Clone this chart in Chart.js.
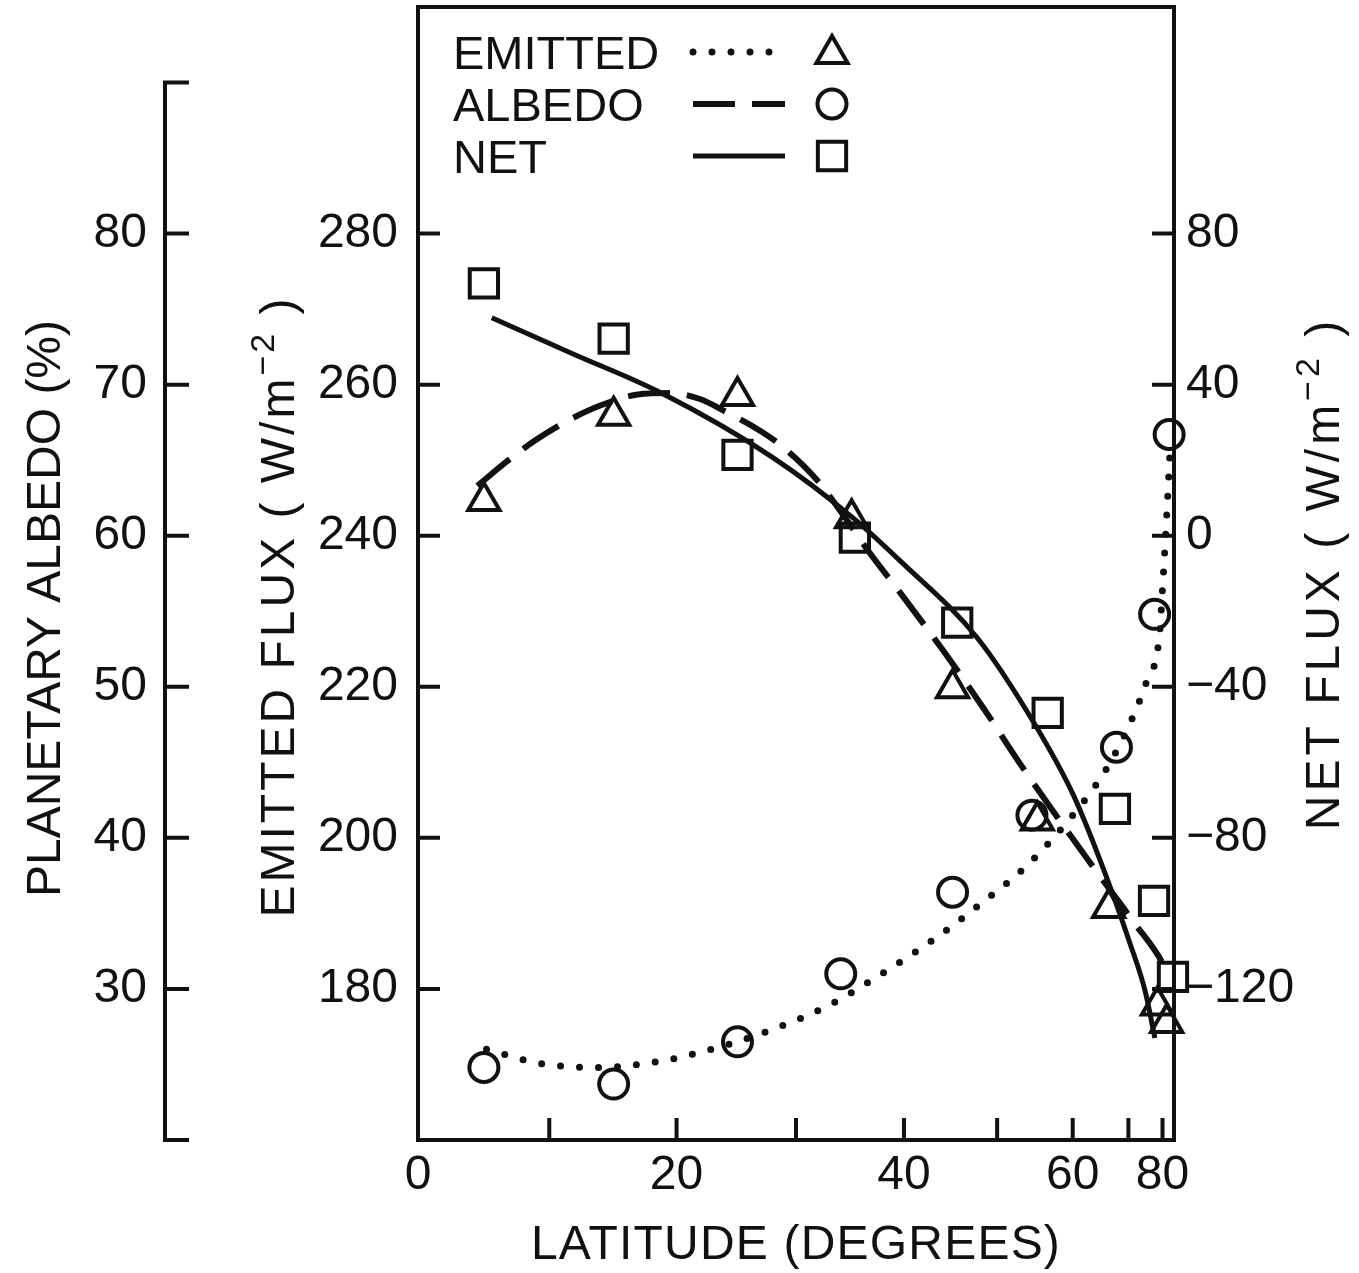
<!DOCTYPE html>
<html>
<head>
<meta charset="utf-8">
<script src="https://cdn.jsdelivr.net/npm/chart.js"></script>
<style>
  html, body { margin: 0; padding: 0; background: #ffffff; }
  canvas { display: block; }
</style>
</head>
<body>
<canvas id="chart" width="1359" height="1273"></canvas>
<script>
// ---- axis ticks -------------------------------------------------------
const latTicks = [0, 10, 20, 30, 40, 50, 60, 70, 80, 90];
const latTickLabels = ['0', '', '20', '', '40', '', '60', '', '80', ''];
const albedoTicks = [20, 30, 40, 50, 60, 70, 80, 90];
const albedoTickLabels = ['', '30', '40', '50', '60', '70', '80', ''];
const emittedTicks = [180, 200, 220, 240, 260, 280];
const emittedTickLabels = ['180', '200', '220', '240', '260', '280'];
const netTicks = [-120, -80, -40, 0, 40, 80];
const netTickLabels = ['\u2212120', '\u221280', '\u221240', '0', '40', '80'];

// ---- zonal observations (latitude in degrees) ------------------------
const emittedLat = [5, 15, 25, 35, 45, 55, 66, 78, 82];
const emittedObs = [244.6, 255.9, 258.5, 242.3, 219.8, 202.3, 190.7, 177.8, 175.5];   // W/m2

const albedoLat = [5, 15, 25, 34, 45, 54.3, 67.5, 77, 83.5];
const albedoObs = [24.8, 23.7, 26.5, 31.0, 36.4, 41.5, 46.0, 54.8, 66.7];              // %

const netLat = [5, 15, 25, 35.3, 45.5, 56.4, 67.2, 76.8, 87];
const netObs = [66.8, 52.2, 21.4, -0.5, -23.0, -46.9, -72.3, -96.7, -116.8];           // W/m2

// ---- smooth fitted curves --------------------------------------------
const emittedFitLat = [4.5, 6.8, 8.9, 11.4, 13.9, 16.9, 19.5, 21.9, 23.8, 26.9, 28.9, 31.9,
                       34.4, 36.7, 39.6, 44.0, 48.4, 52.8, 57.4, 63.2, 71.0, 81.1, 82.8];
const emittedFit = [246.6, 249.9, 252.6, 255.2, 257.2, 258.7, 258.9, 258.1, 256.6, 253.9, 251.7, 247.3,
                    242.4, 237.7, 232.5, 224.8, 217.2, 209.8, 203.2, 196.2, 189.0, 182.8, 181.7];

const albedoFitLat = [5.2, 9.1, 13.6, 18.6, 22.8, 27.9, 32.9, 37.6, 43.5, 48.0,
                      53.3, 60.0, 65.3, 70.4, 74.6, 78.6, 80.2, 82.2, 84.1];
const albedoFit = [26.0, 25.1, 24.8, 25.2, 26.0, 27.3, 28.9, 30.9, 33.5, 35.6,
                   38.0, 41.5, 44.4, 47.6, 50.4, 53.2, 57.0, 61.7, 65.6];

const netFitLat = [5.6, 11.8, 18.7, 28.0, 35.1, 39.6, 47.7, 54.4, 60.0, 64.5, 70.4, 74.1, 77.1];
const netFit = [57.7, 48.2, 37.9, 20.7, 4.8, -6.6, -27.0, -49.0, -68.3, -86.1, -108.1, -120.5, -133.0];

// ---- styling ---------------------------------------------------------
const INK = '#111111';
const FAMILY = '"Liberation Sans", Arial, sans-serif';
const TICK_FONT = { family: FAMILY, size: 48 };
const TITLE_PX = 48;

// Latitude axis spaced by sin(latitude), i.e. proportional to the area of the globe
class SineScale extends Chart.LinearScale {
  static id = 'sine';
  static defaults = {};
  _s(v) { return Math.sin(v * Math.PI / 180); }
  getPixelForValue(value) {
    if (value === null || value === undefined || isNaN(value)) return NaN;
    const a = this._s(this.min), b = this._s(this.max);
    return this.getPixelForDecimal((this._s(value) - a) / (b - a));
  }
  getValueForPixel(pixel) {
    const a = this._s(this.min), b = this._s(this.max);
    const d = this.getDecimalForPixel(pixel);
    return Math.asin(a + d * (b - a)) * 180 / Math.PI;
  }
}
Chart.register(SineScale);

const pairs = (xs, ys) => xs.map((x, i) => ({ x, y: ys[i] }));
const fixedTicks = (vals) => (scale) => { scale.ticks = vals.map(v => ({ value: v })); };
const labelFrom = (vals, labels) => (value) => {
  const i = vals.indexOf(value);
  return i < 0 ? '' : labels[i];
};
// fixed box size for each axis, without the label-overhang padding
const fixSize = (prop, size) => (s) => {
  s[prop] = size;
  s.paddingTop = 0; s.paddingBottom = 0; s.paddingLeft = 0; s.paddingRight = 0;
};

const curveBase = {
  showLine: true, fill: false, pointRadius: 0, borderColor: INK,
  cubicInterpolationMode: 'monotone', clip: false
};
const markerBase = {
  showLine: false, borderColor: INK, backgroundColor: 'rgba(0,0,0,0)',
  pointBorderWidth: 4, clip: false
};

const datasets = [
  { ...curveBase, label: 'EMITTED fit', data: pairs(emittedFitLat, emittedFit), yAxisID: 'yE',
    borderWidth: 6, borderDash: [42, 17], borderCapStyle: 'butt' },
  { ...curveBase, label: 'ALBEDO fit', data: pairs(albedoFitLat, albedoFit), yAxisID: 'yA',
    borderWidth: 7, borderDash: [0, 19], borderCapStyle: 'round' },
  { ...curveBase, label: 'NET fit', data: pairs(netFitLat, netFit), yAxisID: 'yN',
    borderWidth: 5, borderCapStyle: 'butt' },
  { ...markerBase, label: 'EMITTED', data: pairs(emittedLat, emittedObs), yAxisID: 'yE',
    pointStyle: 'triangle', pointRadius: 18 },
  { ...markerBase, label: 'ALBEDO', data: pairs(albedoLat, albedoObs), yAxisID: 'yA',
    pointStyle: 'circle', pointRadius: 14.5 },
  { ...markerBase, label: 'NET', data: pairs(netLat, netObs), yAxisID: 'yN',
    pointStyle: 'rect', pointRadius: 20 }
];

// legend rows: text, the fitted-curve dataset index, the marker dataset index
const legendRows = [
  { text: 'EMITTED', line: 1, marker: 3 },
  { text: 'ALBEDO', line: 0, marker: 4 },
  { text: 'NET', line: 2, marker: 5 }
];

function drawMarker(ctx, style, r, x, y) {
  ctx.beginPath();
  if (style === 'triangle') {
    ctx.moveTo(x, y - r);
    ctx.lineTo(x + r * Math.sin(2 * Math.PI / 3), y + r * 0.5);
    ctx.lineTo(x - r * Math.sin(2 * Math.PI / 3), y + r * 0.5);
    ctx.closePath();
  } else if (style === 'circle') {
    ctx.arc(x, y, r, 0, Math.PI * 2);
  } else {
    const h = r * Math.SQRT1_2;
    ctx.rect(x - h, y - h, 2 * h, 2 * h);
  }
  ctx.stroke();
}

// text run along an axis; parts may be raised superscripts
function drawTitle(ctx, cx, cy, angle, parts, spacing) {
  ctx.save();
  ctx.translate(cx, cy);
  ctx.rotate(angle);
  ctx.fillStyle = INK;
  ctx.textAlign = 'left';
  ctx.textBaseline = 'alphabetic';
  ctx.letterSpacing = (spacing || 0) + 'px';
  let total = 0;
  const widths = parts.map(p => {
    ctx.font = (p.size || TITLE_PX) + 'px ' + FAMILY;
    const w = ctx.measureText(p.text).width;
    total += w;
    return w;
  });
  const base = TITLE_PX * 0.716 / 2;
  let x = -total / 2;
  parts.forEach((p, i) => {
    ctx.font = (p.size || TITLE_PX) + 'px ' + FAMILY;
    ctx.fillText(p.text, x, base - (p.raise || 0));
    x += widths[i];
  });
  ctx.restore();
}

const decorations = {
  id: 'decorations',
  afterDatasetsDraw(chart) {
    const { ctx, chartArea: a, scales } = chart;
    ctx.save();
    ctx.strokeStyle = INK;
    ctx.lineWidth = 4;
    ctx.lineJoin = 'miter';
    ctx.lineCap = 'butt';
    // plot frame
    ctx.strokeRect(a.left, a.top, a.right - a.left, a.bottom - a.top);

    // free-standing albedo axis
    const yA = scales.yA;
    ctx.beginPath();
    ctx.moveTo(yA.right, yA.getPixelForValue(albedoTicks[0]));
    ctx.lineTo(yA.right, yA.getPixelForValue(albedoTicks[albedoTicks.length - 1]));
    ctx.stroke();

    // inward tick marks
    ctx.beginPath();
    yA.ticks.forEach(t => {
      const y = yA.getPixelForValue(t.value);
      ctx.moveTo(yA.right - 2, y); ctx.lineTo(yA.right + 24, y);
    });
    const yE = scales.yE;
    yE.ticks.forEach(t => {
      const y = yE.getPixelForValue(t.value);
      ctx.moveTo(a.left, y); ctx.lineTo(a.left + 22, y);
    });
    const yN = scales.yN;
    yN.ticks.forEach(t => {
      const y = yN.getPixelForValue(t.value);
      ctx.moveTo(a.right, y); ctx.lineTo(a.right - 22, y);
    });
    const x = scales.x;
    x.ticks.forEach(t => {
      if (t.value <= x.min || t.value >= x.max) return;
      const px = x.getPixelForValue(t.value);
      ctx.moveTo(px, a.bottom); ctx.lineTo(px, a.bottom - 22);
    });
    ctx.stroke();

    // legend
    const lx0 = a.left + 275, lx1 = a.left + 367, mx = a.left + 414, tx = a.left + 35;
    legendRows.forEach((row, i) => {
      const cy = a.top + 45 + i * 52;
      const lineDs = chart.data.datasets[row.line];
      const markDs = chart.data.datasets[row.marker];
      ctx.save();
      ctx.strokeStyle = INK;
      ctx.lineWidth = lineDs.borderWidth;
      ctx.lineCap = lineDs.borderCapStyle || 'butt';
      ctx.setLineDash(lineDs.borderDash || []);
      ctx.beginPath();
      ctx.moveTo(lx0, cy); ctx.lineTo(lx1, cy);
      ctx.stroke();
      ctx.setLineDash([]);
      ctx.lineWidth = markDs.pointBorderWidth;
      drawMarker(ctx, markDs.pointStyle, markDs.pointRadius, mx, cy + (markDs.pointStyle === 'triangle' ? 2 : 0));
      ctx.fillStyle = INK;
      ctx.font = '47px ' + FAMILY;
      ctx.textAlign = 'left';
      ctx.textBaseline = 'alphabetic';
      ctx.fillText(row.text, tx, cy + 17);
      ctx.restore();
    });
    ctx.restore();

    // axis titles
    const midY = (a.top + a.bottom) / 2;
    drawTitle(ctx, (a.left + a.right) / 2, 1242, 0, [{ text: 'LATITUDE (DEGREES)' }], 1.2);
    drawTitle(ctx, 43, midY + 35, -Math.PI / 2, [{ text: 'PLANETARY ALBEDO (%)' }], 0);
    drawTitle(ctx, 277, midY + 33, -Math.PI / 2,
      [{ text: 'EMITTED FLUX ( W/m' }, { text: '\u22122', size: 34, raise: 20 }, { text: ' )' }], 3);
    drawTitle(ctx, 1322, midY, -Math.PI / 2,
      [{ text: 'NET FLUX ( W/m' }, { text: '\u22122', size: 34, raise: 20 }, { text: ' )' }], 4);
  }
};

const noGrid = { display: false, drawTicks: false, drawOnChartArea: false };

new Chart(document.getElementById('chart'), {
  type: 'scatter',
  data: { datasets },
  options: {
    responsive: false,
    animation: false,
    events: [],
    layout: { autoPadding: false, padding: { top: 7, left: 0, right: 0, bottom: 0 } },
    plugins: { legend: { display: false }, tooltip: { enabled: false }, title: { display: false } },
    scales: {
      x: {
        type: 'sine', position: 'bottom', min: 0, max: 90,
        afterBuildTicks: fixedTicks(latTicks),
        afterFit: fixSize('height', 133),
        grid: noGrid, border: { display: false },
        ticks: { autoSkip: false, maxRotation: 0, minRotation: 0, padding: 7, color: INK, font: TICK_FONT,
                 callback: labelFrom(latTicks, latTickLabels) }
      },
      yA: {
        type: 'linear', position: 'left', weight: 2, min: 20, max: 95,
        afterBuildTicks: fixedTicks(albedoTicks),
        afterFit: fixSize('width', 165),
        grid: noGrid, border: { display: false },
        ticks: { padding: 18, color: INK, font: TICK_FONT, callback: labelFrom(albedoTicks, albedoTickLabels) }
      },
      yE: {
        type: 'linear', position: 'left', weight: 1, min: 160, max: 310,
        afterBuildTicks: fixedTicks(emittedTicks),
        afterFit: fixSize('width', 253),
        grid: noGrid, border: { display: false },
        ticks: { padding: 20, color: INK, font: TICK_FONT, callback: labelFrom(emittedTicks, emittedTickLabels) }
      },
      yN: {
        type: 'linear', position: 'right', min: -160, max: 140,
        afterBuildTicks: fixedTicks(netTicks),
        afterFit: fixSize('width', 185),
        grid: noGrid, border: { display: false },
        ticks: { padding: 12, color: INK, font: TICK_FONT, callback: labelFrom(netTicks, netTickLabels) }
      }
    }
  },
  plugins: [decorations]
});
</script>
</body>
</html>
